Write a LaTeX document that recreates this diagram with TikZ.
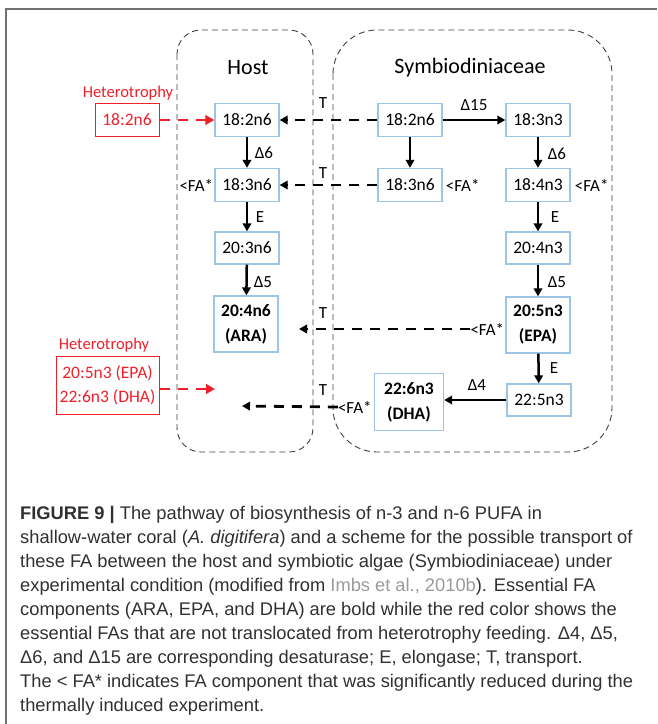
\documentclass[tikz,border=0pt]{standalone}
\usepackage{fontspec}
\setmainfont{Liberation Sans}
\newfontfamily\dfont{Carlito}
\usetikzlibrary{arrows.meta,calc}
\definecolor{boxblue}{HTML}{9DC3E6}
\definecolor{hred}{HTML}{F0202A}
\definecolor{captxt}{HTML}{303030}
\definecolor{linkgray}{HTML}{9A9A9A}
\definecolor{framegray}{HTML}{707070}
\begin{document}
\begin{tikzpicture}[x=1pt,y=-1pt,
  fa/.style={draw=boxblue, line width=1.3pt, minimum width=64pt, minimum height=33pt, inner sep=1pt, font=\dfont\fontsize{17.5}{18}\selectfont},
  fabig/.style={fa, minimum height=56pt, align=center, font=\dfont\bfseries\fontsize{17.5}{25}\selectfont},
  lab/.style={font=\dfont\fontsize{17}{18}\selectfont, inner sep=0pt},
  redlab/.style={lab, text=hred, font=\dfont\fontsize{16.5}{18}\selectfont},
  redbox/.style={draw=hred, line width=1pt, text=hred, inner sep=1pt, font=\dfont\fontsize{17.5}{24}\selectfont, align=center},
  conv/.style={line width=2.5pt, -{Triangle[length=8pt,width=8.5pt]}},
  trans/.style={line width=2.8pt, dash pattern=on 10pt off 8pt, -{Triangle[length=8pt,width=8.5pt]}},
  redtrans/.style={trans, draw=hred, -{Triangle[length=9pt,width=9.5pt]}},
  region/.style={draw=black!75, line width=0.9pt, dash pattern=on 6pt off 4pt},
  capline/.style={anchor=base west, inner sep=0pt, text=captxt, font=\fontsize{18.3}{24}\selectfont}
]
\useasboundingbox (0,0) rectangle (657,724);
% frame
\draw[framegray, line width=2pt] (6,724) -- (6,9) -- (657,9);
% regions
\draw[region, rounded corners=24pt] (177,30) rectangle (313,452);
\draw[region, rounded corners=44pt] (333,30) rectangle (612,452);
\node[lab, font=\dfont\fontsize{22}{24}\selectfont] (thost) at (248,68) {Host};
\node[lab, font=\dfont\fontsize{22}{24}\selectfont] (tsym) at (470,68) {Symbiodiniaceae};
% host column
\node[fa] (h1) at (247,120) {18:2n6};
\node[fa] (h2) at (247,185) {18:3n6};
\node[fa, minimum height=32pt] (h3) at (247,248) {20:3n6};
\node[fabig] (h4) at (246,324) {20:4n6\\(ARA)};
% symbiont columns
\node[fa] (s1) at (410,120) {18:2n6};
\node[fa] (s2) at (538,120) {18:3n3};
\node[fa] (s3) at (410,185) {18:3n6};
\node[fa] (s4) at (538,185) {18:4n3};
\node[fa, minimum height=32pt] (s5) at (538,248) {20:4n3};
\node[fabig] (s6) at (538,325) {20:5n3\\(EPA)};
\node[fa, minimum height=32pt] (s7) at (539,400) {22:5n3};
\node[fabig, minimum width=69pt, minimum height=57pt] (s8) at (409,402) {22:6n3\\(DHA)};
% heterotrophy
\node[redlab] (het1) at (128,93) {Heterotrophy};
\node[redbox, minimum width=64pt, minimum height=33pt] (hb1) at (127,120) {18:2n6};
\node[redlab] (het2) at (104,345) {Heterotrophy};
\node[redbox, minimum width=103pt, minimum height=58pt] (hb2) at (107.5,385) {20:5n3 (EPA)\\22:6n3 (DHA)};
% <FA* labels
\node[lab, anchor=east] (fa2) at ($(h2.west)+(-1,0)$) {<FA*};
\node[lab, anchor=west] (fa3) at ($(s3.east)+(3,0)$) {<FA*};
\node[lab, anchor=west] (fa4) at ($(s4.east)+(4,0)$) {<FA*};
\node[lab, anchor=east] (fa6) at ($(s6.west)+(-1,4)$) {<FA*};
\node[lab, anchor=east] (fa8) at ($(s8.west)+(-2,5)$) {<FA*};
% conversions
\draw[conv] (h1) -- (h2);
\draw[conv] (h2) -- (h3);
\draw[conv] (h3) -- (h4);
\draw[conv] (s1) -- (s3);
\draw[conv] (s1) -- (s2);
\draw[conv] (s2) -- (s4);
\draw[conv] (s4) -- (s5);
\draw[conv] (s5) -- (s6);
\draw[conv] (s6) -- (s7);
\draw[conv] (s7.west) -- (s8.east |- s7.west);
\node[lab] (d6a) at (264,153) {Δ6};
\node[lab] (ea) at (260,217) {E};
\node[lab] (d5a) at (263,282) {Δ5};
\node[lab] (d15) at (474,105) {Δ15};
\node[lab] (d6b) at (557,154) {Δ6};
\node[lab] (eb) at (555,217) {E};
\node[lab] (d5b) at (557,282) {Δ5};
\node[lab] (ec) at (554,368) {E};
\node[lab] (d4) at (477,385) {Δ4};
% transport
\coordinate (e1) at (299,329);
\coordinate (e2) at (242,406);
\coordinate (e3) at (215,389);
\draw[trans] (s1.west) -- (h1.east);
\draw[trans] (s3.west) -- (h2.east);
\draw[trans] (fa6.west) -- (e1);
\draw[trans] (fa8.west) -- (e2);
\draw[redtrans] (hb1.east) -- (h1.west);
\draw[redtrans] (hb2.east |- e3) -- (e3);
\node[lab] (t1) at (323,103) {T};
\node[lab] (t2) at (323,173) {T};
\node[lab] (t3) at (323,313) {T};
\node[lab] (t4) at (323,390) {T};
% caption
\node[capline] (c1) at (20,519) {\textbf{FIGURE 9 |} The pathway of biosynthesis of n-3 and n-6 PUFA in};
\node[capline] (c2) at (20,543) {shallow-water coral (\textit{A. digitifera}) and a scheme for the possible transport of};
\node[capline] (c3) at (20,567) {these FA between the host and symbiotic algae (Symbiodiniaceae) under};
\node[capline] (c4) at (20,591) {experimental condition (modified from \textcolor{linkgray}{Imbs et al., 2010b}). Essential FA};
\node[capline] (c5) at (20,615) {components (ARA, EPA, and DHA) are bold while the red color shows the};
\node[capline] (c6) at (20,639) {essential FAs that are not translocated from heterotrophy feeding. Δ4, Δ5,};
\node[capline] (c7) at (20,663) {Δ6, and Δ15 are corresponding desaturase; E, elongase; T, transport.};
\node[capline] (c8) at (20,687) {The < FA* indicates FA component that was significantly reduced during the};
\node[capline] (c9) at (20,711) {thermally induced experiment.};
\end{tikzpicture}
\end{document}
